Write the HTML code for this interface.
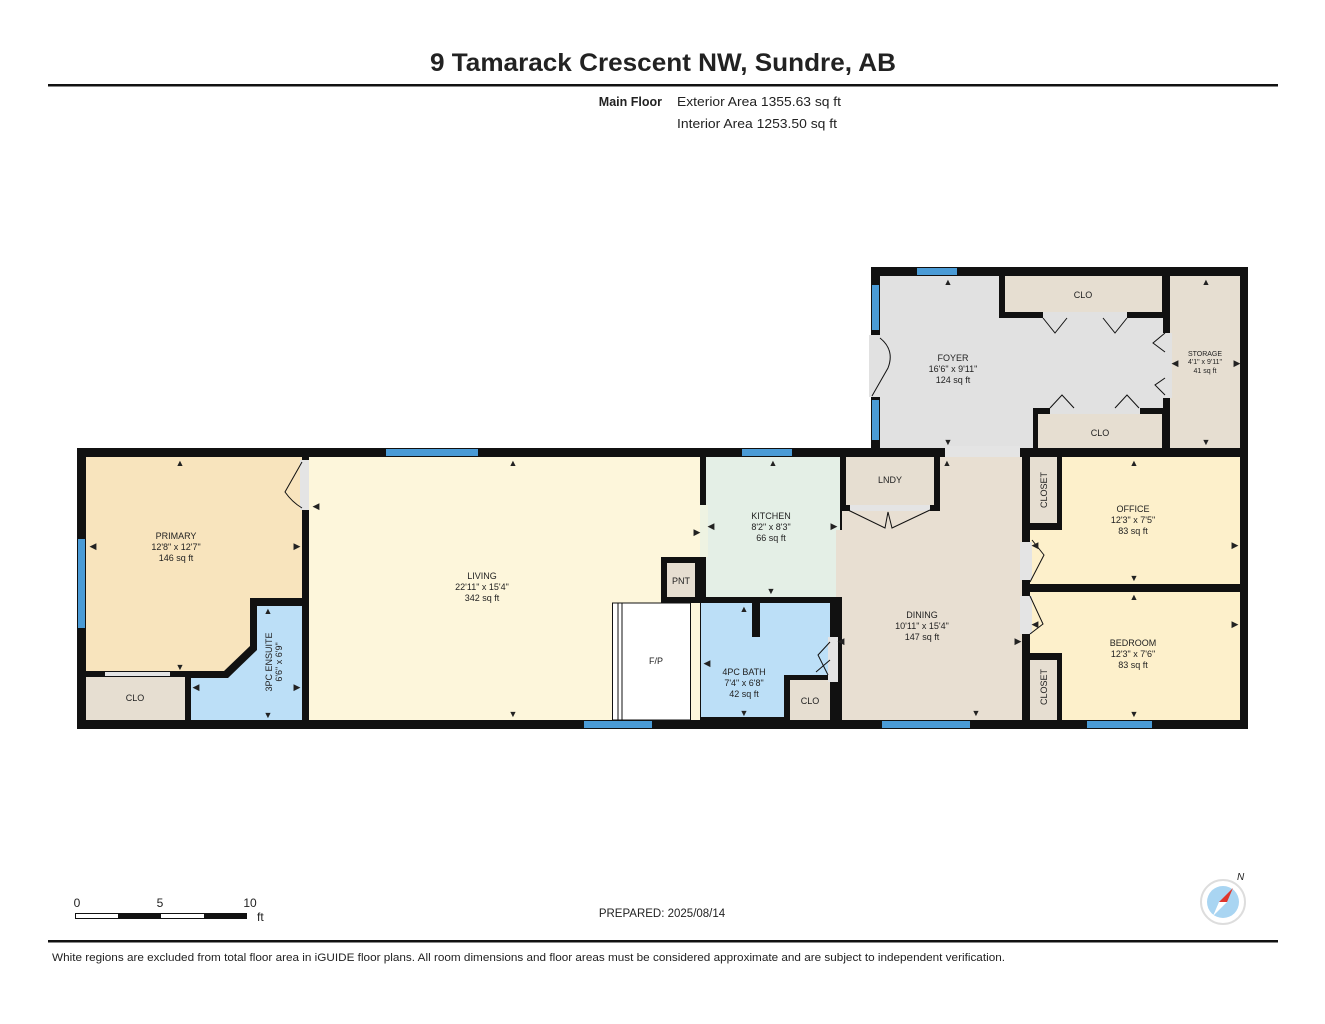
<!DOCTYPE html>
<html><head><meta charset="utf-8"><style>
html,body{margin:0;padding:0;background:#fff}
svg{display:block}
text{font-family:"Liberation Sans",sans-serif;fill:#222}
</style></head><body>
<svg width="1325" height="1024" viewBox="0 0 1325 1024" xmlns="http://www.w3.org/2000/svg">
<text x="430" y="71" font-size="25" font-weight="bold" textLength="466" lengthAdjust="spacingAndGlyphs" fill="#111">9 Tamarack Crescent NW, Sundre, AB</text>
<rect x="48" y="84" width="1230" height="2.5" fill="#111"/>
<text x="662" y="106" font-size="12.5" font-weight="bold" text-anchor="end">Main Floor</text>
<text x="677" y="106" font-size="12.5" textLength="164" lengthAdjust="spacingAndGlyphs">Exterior Area 1355.63 sq ft</text>
<text x="677" y="128" font-size="12.5" textLength="160" lengthAdjust="spacingAndGlyphs">Interior Area 1253.50 sq ft</text>

<rect x="77" y="448" width="1171" height="281" fill="#111"/>
<rect x="871" y="267" width="377" height="190" fill="#111"/>

<rect x="880" y="276" width="283" height="172" fill="#e1e1e1"/>
<rect x="999" y="276" width="166" height="42" fill="#111"/>
<rect x="1005" y="276" width="157" height="36" fill="#e6ded1"/>
<rect x="1033" y="408" width="132" height="40" fill="#111"/>
<rect x="1038" y="414" width="124" height="34" fill="#e6ded1"/>
<rect x="1043" y="312" width="84" height="6" fill="#e1e1e1"/>
<rect x="1050" y="408" width="90" height="6" fill="#e1e1e1"/>
<rect x="1170" y="276" width="70" height="172" fill="#e6ded1"/>
<rect x="1160" y="333" width="12" height="65" fill="#e1e1e1"/>
<rect x="945" y="446" width="75" height="13" fill="#e4e4e4"/>
<rect x="869" y="335" width="13" height="62" fill="#e1e1e1"/>

<polygon points="86,457 302,457 302,598 250,598 250,646 224,671 86,671" fill="#f8e4bd"/>
<rect x="86" y="677" width="99" height="43" fill="#e6ded1"/>
<polygon points="257,606 302,606 302,720 191,720 191,678 228,678 257,650" fill="#bcdff7"/>
<rect x="300" y="460" width="11" height="50" fill="#e4e4e4"/>
<rect x="105" y="672" width="65" height="4" fill="#e4e4e4"/>
<rect x="309" y="457" width="391" height="263" fill="#fdf6db"/>
<rect x="706" y="457" width="134" height="140" fill="#e4efe6"/>
<rect x="700" y="505" width="8" height="52" fill="#eef3e2"/>
<rect x="661" y="557" width="40" height="46" fill="#111"/>
<rect x="667" y="563" width="28" height="34" fill="#e6ded1"/>
<rect x="613" y="603" width="77" height="117" fill="#fff"/>
<line x1="618" y1="603" x2="618" y2="720" stroke="#111"/>
<line x1="622" y1="603" x2="622" y2="720" stroke="#111"/>
<rect x="612.5" y="603" width="78" height="117" fill="none" stroke="#111"/>
<rect x="701" y="603" width="129" height="114" fill="#bcdff7"/>
<rect x="752" y="603" width="8" height="34" fill="#111"/>
<rect x="784" y="675" width="46" height="45" fill="#111"/>
<rect x="790" y="680" width="40" height="40" fill="#e6ded1"/>
<rect x="842" y="457" width="180" height="263" fill="#e8dfd2"/>
<rect x="836" y="530" width="8" height="67" fill="#e8dfd2"/>
<rect x="828" y="637" width="10" height="45" fill="#e4e4e4"/>
<rect x="840" y="457" width="100" height="54" fill="#111"/>
<rect x="846" y="457" width="88" height="48" fill="#e6ded1"/>
<rect x="850" y="505" width="80" height="6" fill="#e4e4e4"/>
<rect x="1030" y="457" width="210" height="127" fill="#fdf0cb"/>
<rect x="1030" y="592" width="210" height="128" fill="#fdf0cb"/>
<rect x="1030" y="457" width="32" height="73" fill="#111"/>
<rect x="1030" y="457" width="27" height="66" fill="#e6ded1"/>
<rect x="1030" y="653" width="32" height="67" fill="#111"/>
<rect x="1030" y="660" width="27" height="60" fill="#e6ded1"/>
<rect x="1020" y="542" width="12" height="38" fill="#e4e4e4"/>
<rect x="1020" y="596" width="12" height="38" fill="#e4e4e4"/>

<g fill="#4a9bd6">
<rect x="386" y="449" width="92" height="7"/><rect x="742" y="449" width="50" height="7"/>
<rect x="584" y="721" width="68" height="7"/><rect x="882" y="721" width="88" height="7"/><rect x="1087" y="721" width="65" height="7"/>
<rect x="78" y="539" width="7" height="89"/>
<rect x="917" y="268" width="40" height="7"/>
<rect x="872" y="285" width="7" height="45"/><rect x="872" y="400" width="7" height="40"/>
</g>

<g fill="none" stroke="#111" stroke-width="1">
<path d="M302 462 L285 492 Q292 502 302 508"/>
<path d="M880 338 Q895 350 888 368 L872 396"/>
<path d="M1032 540 L1044 555 L1030 582"/>
<path d="M1030 596 L1043 624 L1030 634"/>
<path d="M848 510 L885 528 L888 512 L892 528 L930 510"/>
<path d="M1043 318 L1055 333 L1067 318 M1103 318 L1115 333 L1127 318"/>
<path d="M1050 408 L1062 395 L1074 408 M1115 408 L1127 395 L1139 408"/>
<path d="M1165 333 L1153 343 L1165 352 M1165 378 L1155 385 L1165 395"/>
<path d="M830 642 L818 655 L828 675 M816 672 L830 660"/>
<path d="M250 648 L228 672"/>
</g>

<g font-size="9" text-anchor="middle">
<text x="176" y="539">PRIMARY</text><text x="176" y="550">12'8" x 12'7"</text><text x="176" y="561">146 sq ft</text>
<text x="482" y="579">LIVING</text><text x="482" y="590">22'11" x 15'4"</text><text x="482" y="601">342 sq ft</text>
<text x="771" y="519">KITCHEN</text><text x="771" y="530">8'2" x 8'3"</text><text x="771" y="541">66 sq ft</text>
<text x="681" y="584">PNT</text>
<text x="656" y="664">F/P</text>
<text x="744" y="675">4PC BATH</text><text x="744" y="686">7'4" x 6'8"</text><text x="744" y="697">42 sq ft</text>
<text x="810" y="704">CLO</text>
<text x="135" y="701">CLO</text>
<text x="922" y="618">DINING</text><text x="922" y="629">10'11" x 15'4"</text><text x="922" y="640">147 sq ft</text>
<text x="890" y="483">LNDY</text>
<text x="1133" y="512">OFFICE</text><text x="1133" y="523">12'3" x 7'5"</text><text x="1133" y="534">83 sq ft</text>
<text x="1133" y="646">BEDROOM</text><text x="1133" y="657">12'3" x 7'6"</text><text x="1133" y="668">83 sq ft</text>
<text x="953" y="361">FOYER</text><text x="953" y="372">16'6" x 9'11"</text><text x="953" y="383">124 sq ft</text>
<text x="1083" y="298">CLO</text>
<text x="1100" y="436">CLO</text>
<text x="1205" y="356" font-size="7">STORAGE</text><text x="1205" y="364" font-size="7">4'1" x 9'11"</text><text x="1205" y="373" font-size="7">41 sq ft</text>
<text transform="translate(1047 490) rotate(-90)">CLOSET</text>
<text transform="translate(1047 687) rotate(-90)">CLOSET</text>
<text transform="translate(272 662) rotate(-90)">3PC ENSUITE</text>
<text transform="translate(282 662) rotate(-90)">6'6" x 6'9"</text>
</g>

<g fill="#111" font-size="9" text-anchor="middle">
<text x="180" y="466">▲</text><text x="180" y="670">▼</text><text x="93" y="549">◀</text><text x="297" y="549">▶</text>
<text x="513" y="466">▲</text><text x="513" y="717">▼</text><text x="316" y="509">◀</text><text x="697" y="535">▶</text>
<text x="773" y="466">▲</text><text x="771" y="594">▼</text><text x="711" y="529">◀</text><text x="834" y="529">▶</text>
<text x="744" y="612">▲</text><text x="744" y="716">▼</text><text x="707" y="666">◀</text>
<text x="947" y="466">▲</text><text x="976" y="716">▼</text><text x="841" y="644">◀</text><text x="1018" y="644">▶</text>
<text x="1134" y="466">▲</text><text x="1134" y="581">▼</text><text x="1035" y="548">◀</text><text x="1235" y="548">▶</text>
<text x="1134" y="600">▲</text><text x="1134" y="717">▼</text><text x="1035" y="627">◀</text><text x="1235" y="627">▶</text>
<text x="948" y="285">▲</text><text x="948" y="445">▼</text>
<text x="1206" y="285">▲</text><text x="1206" y="445">▼</text><text x="1175" y="366">◀</text><text x="1237" y="366">▶</text>
<text x="268" y="614">▲</text><text x="268" y="718">▼</text><text x="196" y="690">◀</text><text x="297" y="690">▶</text>
</g>

<g font-size="12">
<text x="77" y="907" text-anchor="middle">0</text><text x="160" y="907" text-anchor="middle">5</text><text x="250" y="907" text-anchor="middle">10</text>
<text x="257" y="921">ft</text>
</g>
<rect x="75.5" y="913.5" width="171" height="5" fill="#fff" stroke="#111"/>
<rect x="118" y="913" width="43" height="6" fill="#111"/><rect x="204" y="913" width="43" height="6" fill="#111"/>
<text x="662" y="917" font-size="11.5" text-anchor="middle">PREPARED: 2025/08/14</text>
<circle cx="1223" cy="902" r="22" fill="#fff" stroke="#ddd" stroke-width="2"/>
<circle cx="1223" cy="902" r="16" fill="#a9d5f2"/>
<polygon points="1233,888 1219,902 1227,902" fill="#e0362c"/>
<polygon points="1213,916 1227,902 1219,902" fill="#fff"/>
<text x="1237" y="880" font-size="10" font-style="italic">N</text>

<rect x="48" y="940" width="1230" height="2.5" fill="#111"/>
<text x="52" y="961" font-size="11" textLength="953" lengthAdjust="spacingAndGlyphs">White regions are excluded from total floor area in iGUIDE floor plans. All room dimensions and floor areas must be considered approximate and are subject to independent verification.</text>
</svg>
</body></html>
